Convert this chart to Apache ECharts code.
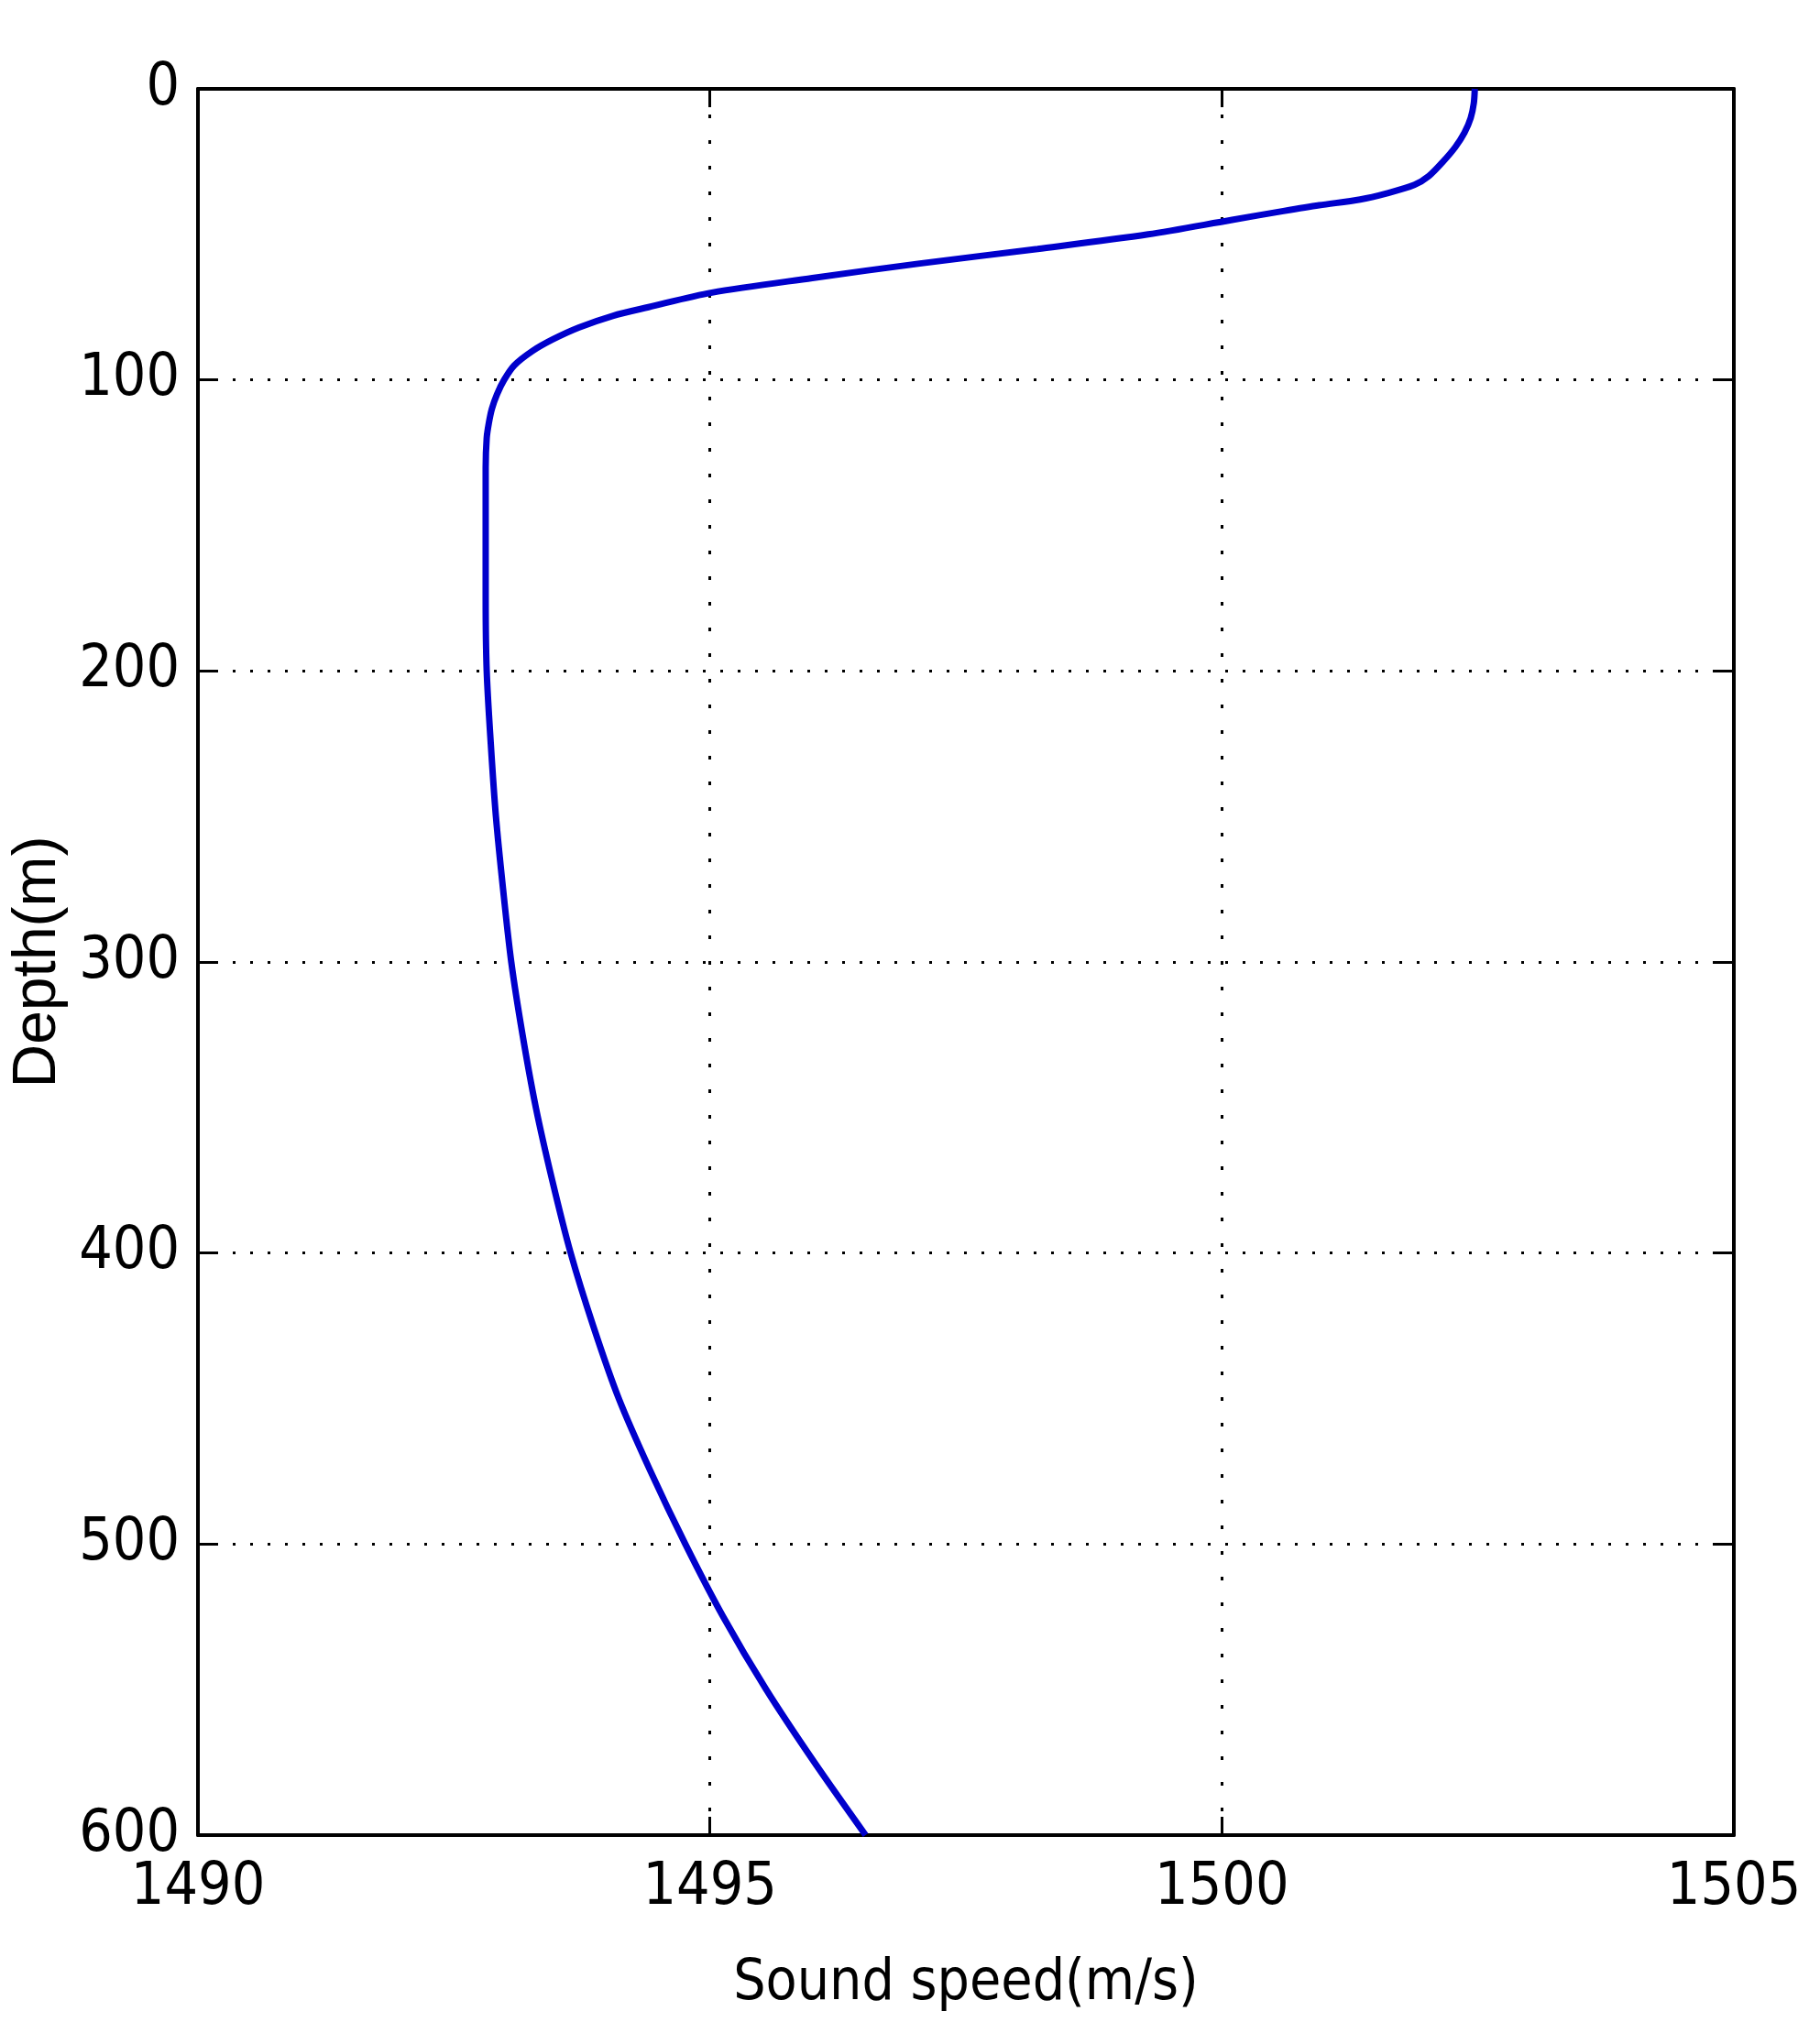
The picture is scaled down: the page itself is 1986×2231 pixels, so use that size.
<!DOCTYPE html>
<html lang="en">
<head>
<meta charset="UTF-8">
<title>Sound speed profile</title>
<script src="https://cdn.jsdelivr.net/npm/echarts@6/dist/echarts.min.js"></script>
<style>
  html, body { margin: 0; padding: 0; background: #fff; }
  #main { width: 1986px; height: 2231px; }
</style>
</head>
<body>
<div id="main"></div>
<script type="text/javascript">
// depth (m) and sound speed (m/s)
var depth = [0, 5, 10, 15, 20, 25, 30, 33, 36, 38, 40, 42, 45, 50, 55, 60, 65, 70, 75, 78,
             82, 86, 90, 95, 100, 105, 110, 115, 120, 130, 150, 175, 200, 225, 250, 275,
             300, 325, 350, 375, 400, 425, 450, 475, 500, 525, 550, 575, 600];
var speed = [1502.47, 1502.46, 1502.43, 1502.37, 1502.28, 1502.16, 1502.02, 1501.88, 1501.60, 1501.35,
             1500.95, 1500.60, 1500.10, 1499.28, 1498.20, 1497.05, 1496.00, 1495.02, 1494.40, 1494.05,
             1493.72, 1493.47, 1493.27, 1493.09, 1492.99, 1492.92, 1492.87, 1492.84, 1492.82, 1492.81,
             1492.81, 1492.81, 1492.82, 1492.86, 1492.91, 1492.98, 1493.06, 1493.17, 1493.30, 1493.46,
             1493.64, 1493.86, 1494.11, 1494.42, 1494.76, 1495.13, 1495.55, 1496.02, 1496.52];

var xTicks = [1490, 1495, 1500, 1505];
var yTicks = [0, 100, 200, 300, 400, 500, 600];

var tickFont = "'Liberation Sans Narrow', 'DejaVu Sans Condensed', 'Liberation Sans', sans-serif";

var myChart = echarts.init(document.getElementById('main'));

var frameLine = { show: true, onZero: false, lineStyle: { color: '#000', width: 4 } };
var innerTick = { show: true, inside: true, length: 20, lineStyle: { color: '#000', width: 3 } };

var option = {
    backgroundColor: '#fff',
    animation: false,
    grid: { left: 216, right: 94, top: 97, bottom: 228, containLabel: false },
    xAxis: [{
        type: 'value',
        position: 'bottom',
        min: xTicks[0],
        max: xTicks[xTicks.length - 1],
        interval: 5,
        name: 'Sound speed(m/s)',
        nameLocation: 'middle',
        nameGap: 132,
        nameTextStyle: { color: '#000', fontSize: 62, fontFamily: tickFont },
        axisLine: frameLine,
        axisTick: innerTick,
        axisLabel: { color: '#000', fontSize: 64, fontFamily: tickFont, margin: 26,
                     formatter: function (v) { return String(v); } },
        splitLine: { show: true, lineStyle: { color: '#000', width: 3, type: [4, 24] } }
    }, {
        type: 'value',
        position: 'top',
        min: xTicks[0],
        max: xTicks[xTicks.length - 1],
        interval: 5,
        axisLine: frameLine,
        axisTick: innerTick,
        axisLabel: { show: false },
        splitLine: { show: false }
    }],
    yAxis: [{
        type: 'value',
        position: 'left',
        inverse: true,
        min: yTicks[0],
        max: yTicks[yTicks.length - 1],
        interval: 100,
        name: 'Depth(m)',
        nameLocation: 'middle',
        nameGap: 100,
        nameTextStyle: { color: '#000', fontSize: 66, fontFamily: "'Liberation Sans', Arial, sans-serif" },
        axisLine: frameLine,
        axisTick: innerTick,
        axisLabel: { color: '#000', fontSize: 64, fontFamily: tickFont, margin: 20,
                     formatter: function (v) { return String(v); } },
        splitLine: { show: true, lineStyle: { color: '#000', width: 3, type: [3, 16] } }
    }, {
        type: 'value',
        position: 'right',
        inverse: true,
        min: yTicks[0],
        max: yTicks[yTicks.length - 1],
        interval: 100,
        axisLine: frameLine,
        axisTick: innerTick,
        axisLabel: { show: false },
        splitLine: { show: false }
    }],
    series: [{
        type: 'line',
        xAxisIndex: 0,
        yAxisIndex: 0,
        data: depth.map(function (d, i) { return [speed[i], d]; }),
        showSymbol: false,
        smooth: 0.3,
        lineStyle: { color: '#0000cc', width: 7 },
        z: 5
    }]
};
myChart.setOption(option);
</script>
</body>
</html>
